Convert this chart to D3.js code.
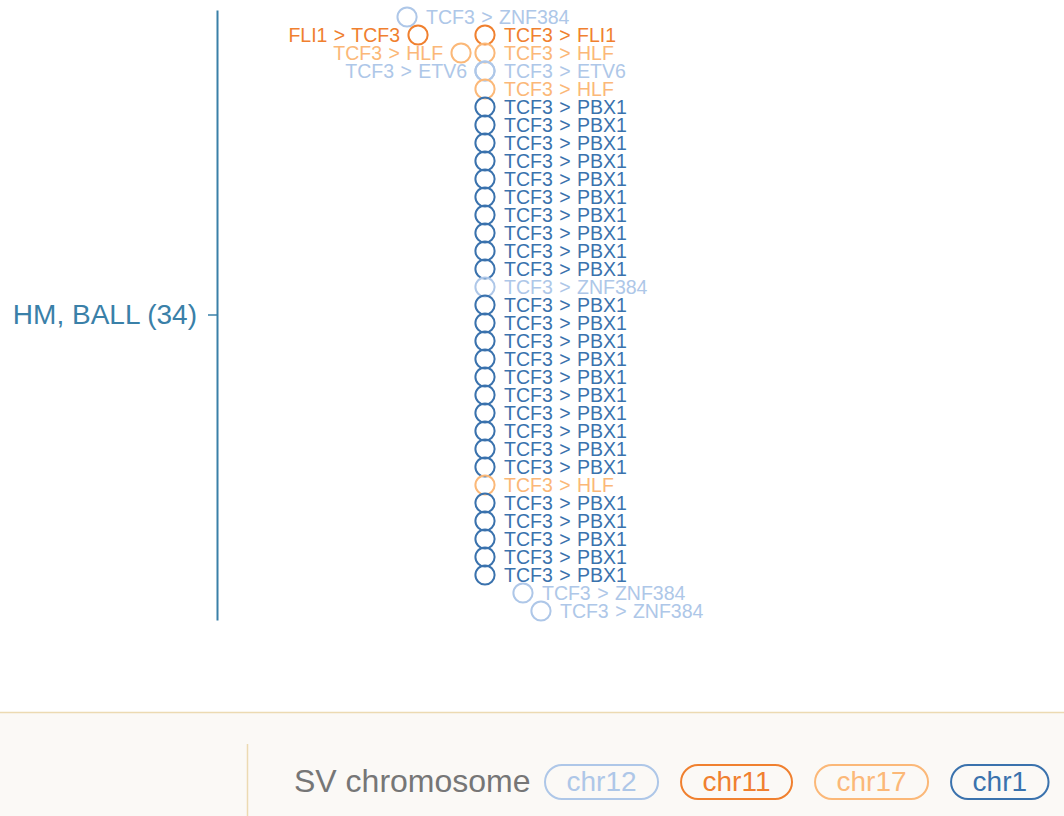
<!DOCTYPE html>
<html><head><meta charset="utf-8">
<script src="https://cdn.jsdelivr.net/npm/d3@7"></script>
<style>
body{margin:0;background:#fff;}
svg{display:block;font-family:"Liberation Sans",Arial,Helvetica,sans-serif;}
</style>
</head><body><svg id="chart" width="1064" height="816"></svg>
<script>
// ---- data ----
const groups = ["HM, BALL (34)"];
const fusions = [
  "TCF3 > ZNF384",
  "FLI1 > TCF3", "TCF3 > FLI1",
  "TCF3 > HLF", "TCF3 > HLF",
  "TCF3 > ETV6", "TCF3 > ETV6",
  "TCF3 > HLF",
  "TCF3 > PBX1","TCF3 > PBX1","TCF3 > PBX1","TCF3 > PBX1","TCF3 > PBX1",
  "TCF3 > PBX1","TCF3 > PBX1","TCF3 > PBX1","TCF3 > PBX1","TCF3 > PBX1",
  "TCF3 > ZNF384",
  "TCF3 > PBX1","TCF3 > PBX1","TCF3 > PBX1","TCF3 > PBX1","TCF3 > PBX1",
  "TCF3 > PBX1","TCF3 > PBX1","TCF3 > PBX1","TCF3 > PBX1","TCF3 > PBX1",
  "TCF3 > HLF",
  "TCF3 > PBX1","TCF3 > PBX1","TCF3 > PBX1","TCF3 > PBX1","TCF3 > PBX1",
  "TCF3 > ZNF384", "TCF3 > ZNF384"
];
// stacking row of each dot (top to bottom)
const rows = [
  0,
  1, 1,
  2, 2,
  3, 3,
  4,
  5,6,7,8,9,10,11,12,13,14,
  15,
  16,17,18,19,20,21,22,23,24,25,
  26,
  27,28,29,30,31,
  32, 33
];
// horizontal dodge offset of each dot, in dot-spacing units
const offsets = [
  -4.33,
  -3.72, 0,
  -1.33, 0,
  0, 0,
  0,
  0,0,0,0,0,0,0,0,0,0,
  0,
  0,0,0,0,0,0,0,0,0,0,
  0,
  0,0,0,0,0,
  2.11, 3.11
];
// side of the label
const sides = [
  "right",
  "left", "right",
  "left", "right",
  "left", "right",
  "right",
  "right","right","right","right","right","right","right","right","right","right",
  "right",
  "right","right","right","right","right","right","right","right","right","right",
  "right",
  "right","right","right","right","right",
  "right", "right"
];
const partnerChrom = {ZNF384:"chr12", ETV6:"chr12", FLI1:"chr11", HLF:"chr17", PBX1:"chr1"};
const legendTitle = "SV chromosome";
const legendChroms = ["chr12", "chr11", "chr17", "chr1"];
const legendColors = ["#aec7e8", "#f0802f", "#fbb878", "#3a72ad"];

// ---- chart ----
const svg = d3.select("#chart");
const W = 1064, H = 816;
const axisColor = "#3a80a8";

const color = d3.scaleOrdinal().domain(legendChroms).range(legendColors);
const yBand = d3.scaleBand().domain(groups).range([10, 620]);
const center = yBand(groups[0]) + yBand.bandwidth() / 2;
const rowScale = d3.scaleLinear().domain([0, 33]).range([center - 298, center + 296]);
const xScale = d3.scaleLinear().domain([0, 1]).range([485, 503]);

const data = fusions.map((f, i) => {
  const genes = f.split(" > ");
  const partner = genes[0] === "TCF3" ? genes[1] : genes[0];
  return {label: f, chrom: partnerChrom[partner], row: rows[i], off: offsets[i], side: sides[i]};
});

// axis
const axisX = 217;
const ax = svg.append("g").attr("transform", `translate(${axisX},0)`)
  .call(d3.axisLeft(yBand).tickSizeOuter(0).tickSizeInner(9).tickPadding(11));
ax.select(".domain").attr("stroke", axisColor).attr("stroke-width", 2);
ax.selectAll(".tick line").attr("stroke", axisColor).attr("stroke-width", 1.5);
ax.selectAll(".tick text").attr("fill", axisColor)
  .style("font-size", "28px").style("font-family", '"Liberation Sans",Arial,sans-serif');

// dots
const g = svg.append("g");
g.selectAll("circle").data(data).join("circle")
  .attr("cx", d => xScale(d.off))
  .attr("cy", d => rowScale(d.row))
  .attr("r", 9.6)
  .attr("fill", "none")
  .attr("stroke", d => color(d.chrom))
  .attr("stroke-width", 2);

g.selectAll("text").data(data).join("text")
  .attr("x", d => xScale(d.off) + (d.side === "right" ? 19 : -18))
  .attr("y", d => rowScale(d.row))
  .attr("dy", "0.35em")
  .attr("text-anchor", d => d.side === "right" ? "start" : "end")
  .attr("fill", d => color(d.chrom))
  .style("font-size", "19.5px")
  .style("word-spacing", "1px")
  .text(d => d.label);

// legend
const lg = svg.append("g");
lg.append("rect").attr("x", 0).attr("y", 712).attr("width", W).attr("height", H - 712)
  .attr("fill", "#fbf9f6");
lg.append("line").attr("x1", 0).attr("x2", W).attr("y1", 712.5).attr("y2", 712.5)
  .attr("stroke", "#ecdab2").attr("stroke-width", 1.5);
lg.append("line").attr("x1", 247.5).attr("x2", 247.5).attr("y1", 744).attr("y2", H)
  .attr("stroke", "#ecdab2").attr("stroke-width", 1.5);
lg.append("text").attr("x", 294).attr("y", 792)
  .attr("fill", "#767676").style("font-size", "32px").text(legendTitle);

let lx = 544;
legendChroms.forEach((c, i) => {
  const item = lg.append("g");
  const t = item.append("text").attr("y", 791).attr("text-anchor", "middle")
    .attr("fill", color(c)).style("font-size", "28px").text(c);
  const tw = t.node().getComputedTextLength();
  const w = tw + 45;
  item.insert("rect", "text").attr("x", lx + 1).attr("y", 765).attr("width", w - 2).attr("height", 34)
    .attr("rx", 17).attr("fill", "none").attr("stroke", color(c)).attr("stroke-width", 2);
  t.attr("x", lx + w / 2);
  lx += w + 21;
});
</script>
</body></html>
